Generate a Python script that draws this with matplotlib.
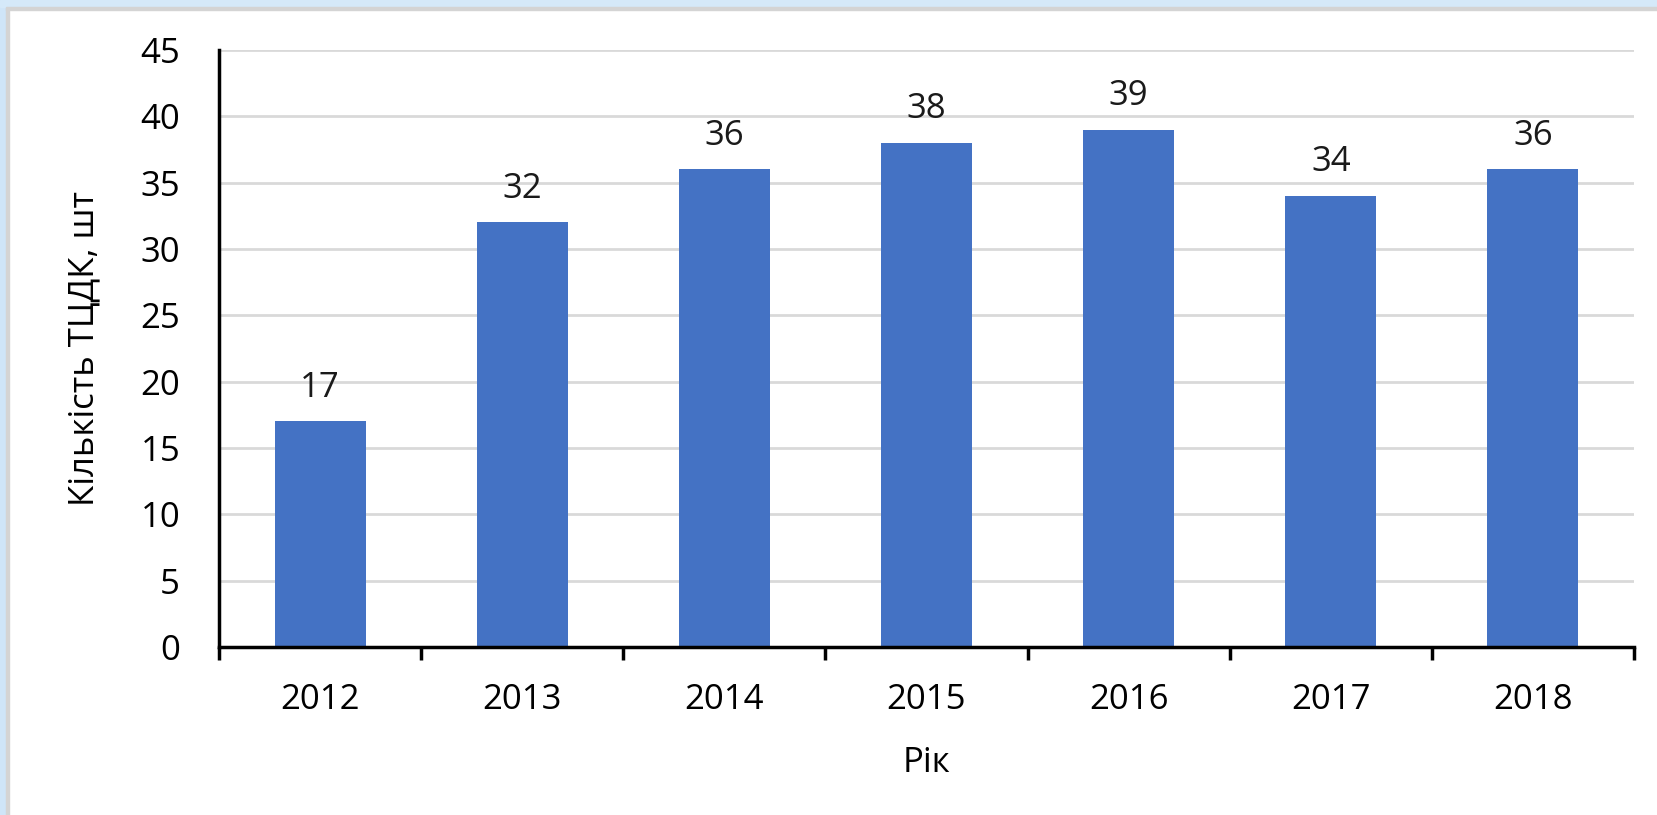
import numpy as np
import matplotlib.pyplot as plt
from matplotlib.patches import Rectangle

years = ["2012", "2013", "2014", "2015", "2016", "2017", "2018"]
counts = [17, 32, 36, 38, 39, 34, 36]

plt.rcParams['font.family'] = ['Open Sans', 'DejaVu Sans']
FS = 25

W, H = 1657, 815
fig = plt.figure(figsize=(W / 100, H / 100), dpi=100)
fig.patch.set_facecolor("white")

# light blue frame on left / top edges
fig.patches.append(Rectangle((0, 0), 6 / W, 1, transform=fig.transFigure,
                             color="#CFE5F8", zorder=0))
fig.patches.append(Rectangle((6 / W, 0), 3 / W, 1 - 7 / H, transform=fig.transFigure,
                             color="#D4D4D4", zorder=0))
fig.patches.append(Rectangle((0, 1 - 7 / H), 1, 7 / H, transform=fig.transFigure,
                             color="#D5E9F9", zorder=0))
fig.patches.append(Rectangle((6 / W, 1 - 10 / H), 1, 3 / H, transform=fig.transFigure,
                             color="#D4D4D4", zorder=0))

ax = fig.add_axes([219 / W, 1 - 647 / H, (1634 - 219) / W, (647 - 50) / H])
x = np.arange(len(years))
bars = ax.bar(x, counts, width=0.45, color="#4472C4", zorder=2)

for xi, v in zip(x, counts):
    ax.annotate(str(v), (xi, v), xytext=(0, 12), textcoords="offset points",
                ha="center", va="bottom", fontsize=FS, color="#1a1a1a")

ax.set_xlim(-0.5, len(years) - 0.5)
ax.set_ylim(0, 45)
ax.set_yticks(np.arange(0, 46, 5))
ax.yaxis.grid(True, color="#D9D9D9", linewidth=2, zorder=0)
ax.set_axisbelow(True)

ax.set_xticks(x)
ax.set_xticklabels(years)
ax.set_xticks(np.arange(-0.5, len(years), 1), minor=True)
ax.tick_params(axis="x", which="major", length=0, pad=26, labelsize=FS)
ax.tick_params(axis="x", which="minor", length=9, width=2.5, direction="out")
ax.tick_params(axis="y", length=0, pad=28, labelsize=FS)

for s in ["top", "right"]:
    ax.spines[s].set_visible(False)
for s in ["left", "bottom"]:
    ax.spines[s].set_linewidth(2.5)
    ax.spines[s].set_color("black")

ax.set_ylabel("Кількість ТЦДК, шт", fontsize=FS, labelpad=28)
ax.set_xlabel("Рік", fontsize=FS, labelpad=21)

plt.savefig("out.png", dpi=100)
